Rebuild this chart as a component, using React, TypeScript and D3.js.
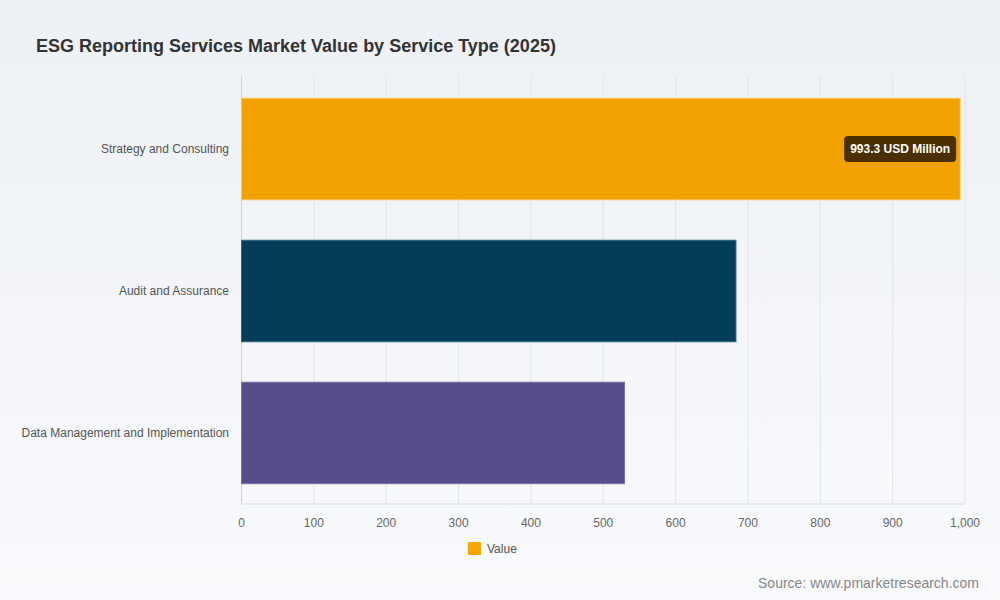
import React from "react";
import * as d3 from "d3";

const categories = ["Strategy and Consulting", "Audit and Assurance", "Data Management and Implementation"];
const values = [993.3, 683.4, 529.4];
const barColors = ["#F2A100", "#023E5A", "#574D8B"];
const barStrokes = ["#F7C45A", "#2D6582", "#7A70AA"];
const xTicks = [0, 100, 200, 300, 400, 500, 600, 700, 800, 900, 1000];
const title = "ESG Reporting Services Market Value by Service Type (2025)";
const labelText = "993.3 USD Million";

export default function App() {
  const W = 1000, H = 600;
  const left = 241.5, right = 965, top = 76, bottom = 504;
  const x = d3.scaleLinear().domain([0, 1000]).range([left, right]);
  const y = d3.scaleBand().domain(categories).range([top + 1, bottom + 1]).paddingInner(0.285).paddingOuter(0.15);
  const fmt = d3.format(",");
  const font = "'Helvetica Neue', Arial, 'Liberation Sans', sans-serif";
  const b0 = y(categories[0])!;
  const bw = y.bandwidth();
  const lblW = 112, lblH = 26;
  const lblX = x(values[0]) - 4 - lblW;
  const lblY = b0 + bw / 2 - lblH / 2;
  return (
    <svg width={W} height={H} style={{ position: "absolute", left: 0, top: 0, fontFamily: font }}>
      <defs>
        <linearGradient id="bg" x1="0" y1="0" x2="0" y2="1">
          <stop offset="0" stopColor="#edf0f5" />
          <stop offset="1" stopColor="#f9fafc" />
        </linearGradient>
      </defs>
      <rect x={0} y={0} width={W} height={H} fill="url(#bg)" />
      <text x={36} y={52} fontSize={18} fontWeight="bold" fill="#333">{title}</text>
      {xTicks.map((t) => (
        <line key={t} x1={x(t)} x2={x(t)} y1={top} y2={bottom} stroke="#e2e5ea" strokeWidth={1} />
      ))}
      <line x1={left} x2={left} y1={top} y2={bottom} stroke="#cfd3d8" />
      <line x1={left} x2={right} y1={bottom} y2={bottom} stroke="#d8dbe0" />
      {categories.map((c, i) => (
        <g key={c}>
          <rect x={x(0)} y={y(c)!} width={x(values[i]) - x(0)} height={bw} fill={barColors[i]} stroke={barStrokes[i]} strokeWidth={1} />
          <text x={229} y={y(c)! + bw / 2} dy="0.35em" textAnchor="end" fontSize={12} fill="#555">{c}</text>
        </g>
      ))}
      <rect x={lblX} y={lblY} width={lblW} height={lblH} rx={4} fill="#4A3000" />
      <text x={lblX + lblW / 2} y={lblY + lblH / 2} dy="0.35em" textAnchor="middle" fontSize={12} fontWeight="bold" fill="#fff">{labelText}</text>
      {xTicks.map((t) => (
        <text key={t} x={x(t)} y={523} dy="0.35em" textAnchor="middle" fontSize={12} fill="#666">{fmt(t)}</text>
      ))}
      <rect x={468} y={542} width={13} height={13} fill="#F7A800" />
      <text x={487} y={549} dy="0.35em" fontSize={12} fill="#555">Value</text>
      <text x={979} y={583} dy="0.35em" textAnchor="end" fontSize={14} fill="#888">Source: www.pmarketresearch.com</text>
    </svg>
  );
}
